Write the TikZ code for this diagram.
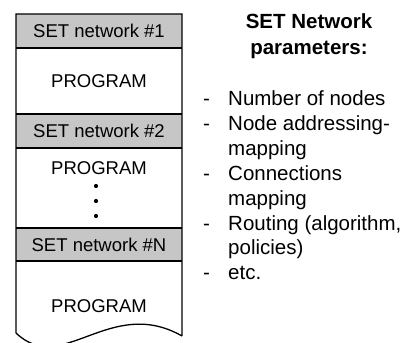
\documentclass[tikz,border=0pt]{standalone}
\usepackage{fontspec}
\setmainfont{Liberation Sans}
\usepackage{tikz}
\usepackage{xcolor}
\definecolor{BandGray}{RGB}{198, 198, 198}
\colorlet{BoxLine}{black}

\begin{document}
\begin{tikzpicture}[x = 1pt, y = -1pt]
                    \useasboundingbox (0, 0) rectangle (406, 342);
                    \clip (0, 0) rectangle (406, 342);

                    \coordinate (TL) at ( 16,  14);
                    \coordinate (TR) at (182,  14);
                    \coordinate (BL) at ( 16, 333);
                    \coordinate (BR) at (182, 336);

                    \fill[BandGray] (16,  14) rectangle (182,  48);
                    \fill[BandGray] (16, 114) rectangle (182, 148);
                    \fill[BandGray] (16, 228) rectangle (182, 261);

                    \draw[line width = 1.3pt, draw = BoxLine]
                        (16,  48) -- (182,  48)
                        (16, 114) -- (182, 114)
                        (16, 148) -- (182, 148)
                        (16, 228) -- (182, 228)
                        (16, 261) -- (182, 261)
                    ;

                    \draw[line width = 1.3pt, draw = BoxLine, line join = miter]
                        (BL) -- (TL) -- (TR) -- (BR)
                        (BL) .. controls (62, 377) and (110, 295) .. (BR)
                    ;

                    \begin{scope}[
                        every node/.style = {
                            inner sep = 0pt,
                            anchor    = base,
                            font      = \fontsize{18.5}{18.5}\selectfont,
                        }
                    ]
                        \node (set1)  at (99,  37.5) {SET network \#1};
                        \node (prog1) at (99,  88)   {PROGRAM};
                        \node (set2)  at (99, 137)   {SET network \#2};
                        \node (prog2) at (99, 174)   {PROGRAM};
                        \node (setN)  at (99, 251.5) {SET network \#N};
                        \node (progN) at (99, 312)   {PROGRAM};
                    \end{scope}

                    \foreach \y in {186, 201, 216}
                        \fill (96, \y) circle (2.1pt);

                    \begin{scope}[
                        every node/.style = {
                            inner sep = 0pt,
                            anchor    = base,
                            font      = \fontsize{20.5}{25}\selectfont\bfseries,
                        }
                    ]
                        \node (head1) at (309, 29) {SET Network};
                        \node (head2) at (309, 55) {parameters:};
                    \end{scope}

                    \begin{scope}[
                        every node/.style = {
                            inner sep = 0pt,
                            anchor    = base west,
                            align     = left,
                            font      = \fontsize{20.5}{24.9}\selectfont,
                        }
                    ]
                        \node (dash1) at (203, 105.5) {-};
                        \node (dash2) at (203, 130.4) {-};
                        \node (dash3) at (203, 180.2) {-};
                        \node (dash4) at (203, 230)   {-};
                        \node (dash5) at (203, 279.8) {-};

                        \node (item1) at (228, 105.5) {Number of nodes};
                        \node (item2) at (228, 155.3) {Node addressing-\\mapping};
                        \node (item3) at (228, 205.1) {Connections\\mapping};
                        \node (item4) at (228, 254.9) {Routing (algorithm,\\policies)};
                        \node (item5) at (228, 279.8) {etc.};
                    \end{scope}
                \end{tikzpicture}
\end{document}
